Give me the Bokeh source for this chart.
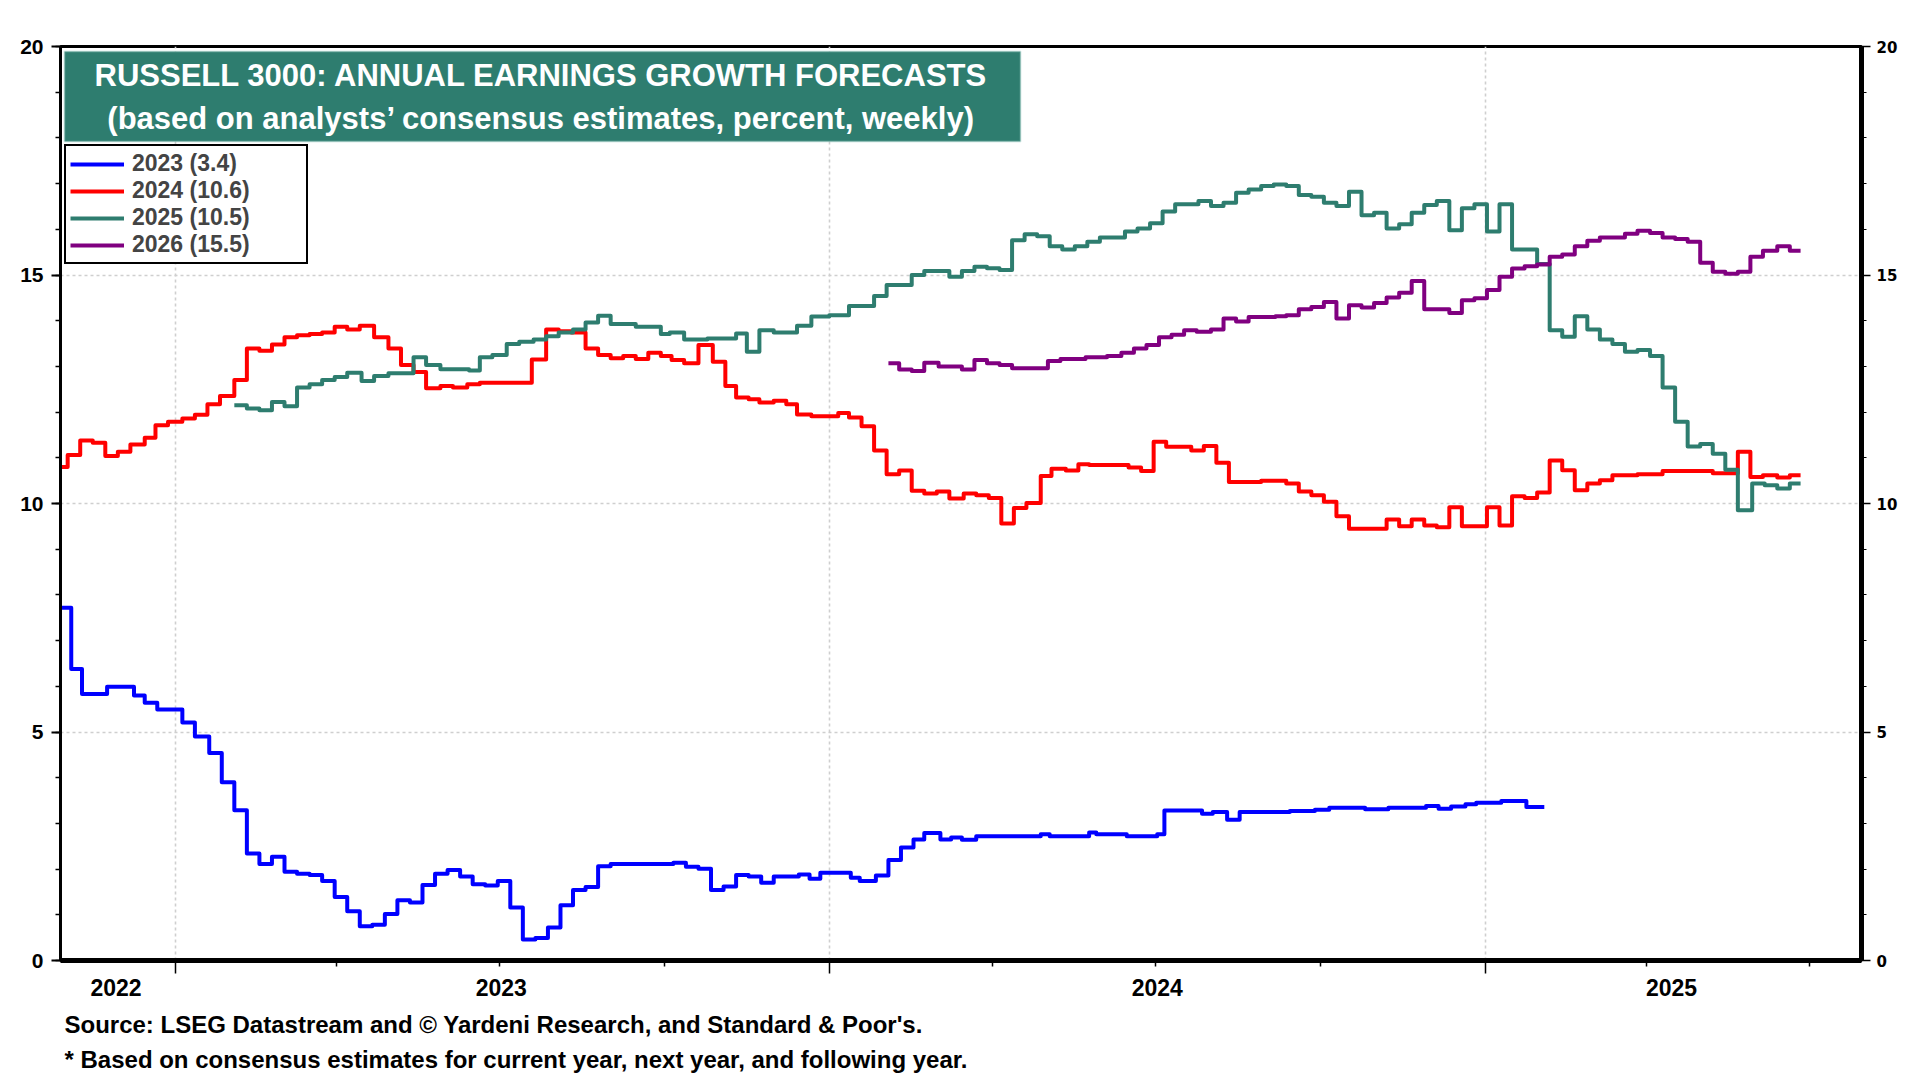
import pandas as pd
from bokeh.plotting import figure
from bokeh.models import (LinearAxis, FixedTicker, Grid, Range1d, ColumnDataSource,
                          Legend, LegendItem, Label, BoxAnnotation, Title)
from bokeh.embed import file_html
from bokeh.resources import INLINE

# ---------------- data (weekly consensus growth forecasts, %; value holds from each date) -----------
dates_2023 = ["2022-10-28", "2022-11-04", "2022-11-10", "2022-11-24", "2022-12-09", "2022-12-15",
              "2022-12-22", "2023-01-05", "2023-01-12", "2023-01-20", "2023-01-27", "2023-02-03",
              "2023-02-10", "2023-02-17", "2023-02-24", "2023-03-03", "2023-03-10", "2023-03-17",
              "2023-03-24", "2023-03-31", "2023-04-07", "2023-04-14", "2023-04-21", "2023-04-28",
              "2023-05-05", "2023-05-12", "2023-05-19", "2023-05-26", "2023-06-02", "2023-06-09",
              "2023-06-16", "2023-06-23", "2023-06-30", "2023-07-07", "2023-07-14", "2023-07-21",
              "2023-07-28", "2023-08-04", "2023-08-11", "2023-08-18", "2023-08-25", "2023-09-01",
              "2023-10-06", "2023-10-13", "2023-10-20", "2023-10-27", "2023-11-03", "2023-11-10",
              "2023-11-17", "2023-11-24", "2023-12-01", "2023-12-15", "2023-12-21", "2023-12-27",
              "2024-01-13", "2024-01-18", "2024-01-27", "2024-02-03", "2024-02-10", "2024-02-17",
              "2024-02-23", "2024-03-03", "2024-03-09", "2024-03-15", "2024-03-23", "2024-04-28",
              "2024-05-03", "2024-05-25", "2024-05-29", "2024-06-15", "2024-07-02", "2024-07-06",
              "2024-07-27", "2024-08-02", "2024-08-10", "2024-08-17", "2024-09-14", "2024-09-28",
              "2024-10-06", "2024-10-26", "2024-11-08", "2024-11-29", "2024-12-06", "2024-12-13",
              "2024-12-21", "2024-12-27", "2025-01-10", "2025-01-24", "2025-02-03"]
growth_2023 = [7.72, 6.38, 5.83, 5.99, 5.80, 5.64,
               5.49, 5.21, 4.90, 4.54, 3.90, 3.29,
               2.34, 2.11, 2.27, 1.94, 1.90, 1.87,
               1.74, 1.39, 1.08, 0.75, 0.78, 1.02,
               1.32, 1.27, 1.65, 1.90, 1.98, 1.84,
               1.67, 1.64, 1.74, 1.16, 0.46, 0.49,
               0.72, 1.21, 1.54, 1.61, 2.06, 2.11,
               2.14, 2.05, 2.01, 1.54, 1.62, 1.87,
               1.84, 1.70, 1.84, 1.88, 1.79, 1.92,
               1.81, 1.74, 1.86, 2.20, 2.47, 2.65,
               2.79, 2.65, 2.69, 2.64, 2.72, 2.76,
               2.72, 2.80, 2.76, 2.72, 2.76, 3.28,
               3.21, 3.25, 3.08, 3.25, 3.27, 3.30,
               3.34, 3.31, 3.34, 3.38, 3.32, 3.37,
               3.42, 3.45, 3.49, 3.36, 3.36]

dates_2024 = ["2022-10-28", "2022-11-02", "2022-11-09", "2022-11-16", "2022-11-23", "2022-11-30",
              "2022-12-07", "2022-12-15", "2022-12-21", "2022-12-28", "2023-01-05", "2023-01-12",
              "2023-01-19", "2023-01-26", "2023-02-03", "2023-02-10", "2023-02-17", "2023-02-24",
              "2023-03-03", "2023-03-10", "2023-03-17", "2023-03-24", "2023-03-31", "2023-04-07",
              "2023-04-14", "2023-04-22", "2023-04-30", "2023-05-07", "2023-05-14", "2023-05-21",
              "2023-05-29", "2023-06-05", "2023-06-13", "2023-06-20", "2023-07-19", "2023-07-27",
              "2023-08-03", "2023-08-10", "2023-08-18", "2023-08-25", "2023-09-01", "2023-09-08",
              "2023-09-15", "2023-09-22", "2023-09-29", "2023-10-05", "2023-10-12", "2023-10-20",
              "2023-10-28", "2023-11-04", "2023-11-10", "2023-11-17", "2023-11-23", "2023-12-01",
              "2023-12-08", "2023-12-14", "2023-12-22", "2024-01-06", "2024-01-12", "2024-01-19",
              "2024-01-26", "2024-02-02", "2024-02-09", "2024-02-16", "2024-02-23", "2024-03-01",
              "2024-03-08", "2024-03-16", "2024-03-23", "2024-03-30", "2024-04-06", "2024-04-13",
              "2024-04-20", "2024-04-28", "2024-05-04", "2024-05-12", "2024-05-19", "2024-05-25",
              "2024-06-16", "2024-06-23", "2024-06-30", "2024-07-07", "2024-07-21", "2024-07-28",
              "2024-08-04", "2024-08-11", "2024-08-29", "2024-09-12", "2024-09-19", "2024-09-26",
              "2024-10-03", "2024-10-10", "2024-10-17", "2024-11-07", "2024-11-14", "2024-11-21",
              "2024-11-28", "2024-12-05", "2024-12-12", "2024-12-19", "2025-01-02", "2025-01-09",
              "2025-01-16", "2025-01-23", "2025-01-30", "2025-02-06", "2025-02-13", "2025-02-20",
              "2025-02-27", "2025-03-06", "2025-03-13", "2025-03-27", "2025-04-10", "2025-05-08",
              "2025-05-22", "2025-05-29", "2025-06-05", "2025-06-13", "2025-06-20", "2025-06-26"]
growth_2024 = [10.80, 11.06, 11.38, 11.33, 11.04, 11.13,
               11.29, 11.44, 11.71, 11.79, 11.86, 11.94,
               12.17, 12.35, 12.70, 13.39, 13.34, 13.48,
               13.64, 13.68, 13.71, 13.74, 13.87, 13.81,
               13.89, 13.64, 13.39, 13.03, 12.88, 12.52,
               12.57, 12.54, 12.61, 12.64, 13.15, 13.81,
               13.77, 13.74, 13.39, 13.25, 13.18, 13.23,
               13.16, 13.30, 13.23, 13.14, 13.07, 13.47,
               13.10, 12.57, 12.32, 12.28, 12.21, 12.25,
               12.17, 11.95, 11.91, 11.98, 11.88, 11.69,
               11.16, 10.64, 10.72, 10.28, 10.22, 10.26,
               10.11, 10.22, 10.18, 10.12, 9.56, 9.90,
               10.01, 10.60, 10.76, 10.72, 10.86, 10.84,
               10.79, 10.71, 11.35, 11.24, 11.16, 11.26,
               10.89, 10.47, 10.50, 10.44, 10.26, 10.18,
               10.04, 9.72, 9.45, 9.65, 9.50, 9.65,
               9.52, 9.48, 9.92, 9.50, 9.92, 9.52,
               10.16, 10.12, 10.24, 10.94, 10.73, 10.29,
               10.44, 10.51, 10.62, 10.64, 10.71, 10.66,
               11.13, 10.58, 10.62, 10.57, 10.62, 10.62]

dates_2025 = ["2023-02-03", "2023-02-10", "2023-02-17", "2023-02-24", "2023-03-03", "2023-03-10",
              "2023-03-17", "2023-03-24", "2023-03-31", "2023-04-07", "2023-04-15", "2023-04-22",
              "2023-04-30", "2023-05-14", "2023-05-21", "2023-05-29", "2023-06-14", "2023-06-20",
              "2023-06-27", "2023-07-05", "2023-07-12", "2023-07-20", "2023-07-27", "2023-08-03",
              "2023-08-11", "2023-08-18", "2023-08-25", "2023-09-01", "2023-09-15", "2023-09-29",
              "2023-10-04", "2023-10-12", "2023-10-25", "2023-11-10", "2023-11-16", "2023-11-23",
              "2023-12-01", "2023-12-14", "2023-12-22", "2024-01-01", "2024-01-12", "2024-01-26",
              "2024-02-02", "2024-02-16", "2024-02-23", "2024-03-08", "2024-03-15", "2024-03-22",
              "2024-03-29", "2024-04-05", "2024-04-12", "2024-04-19", "2024-04-26", "2024-05-03",
              "2024-05-10", "2024-05-17", "2024-05-24", "2024-05-31", "2024-06-14", "2024-06-21",
              "2024-06-28", "2024-07-05", "2024-07-12", "2024-07-25", "2024-08-01", "2024-08-08",
              "2024-08-15", "2024-08-22", "2024-08-29", "2024-09-05", "2024-09-12", "2024-09-19",
              "2024-09-26", "2024-10-03", "2024-10-10", "2024-10-17", "2024-10-24", "2024-10-31",
              "2024-11-07", "2024-11-14", "2024-11-21", "2024-11-28", "2024-12-05", "2024-12-12",
              "2024-12-19", "2024-12-26", "2025-01-02", "2025-01-09", "2025-01-16", "2025-01-30",
              "2025-02-06", "2025-02-13", "2025-02-20", "2025-02-27", "2025-03-06", "2025-03-13",
              "2025-03-20", "2025-03-27", "2025-04-03", "2025-04-10", "2025-04-17", "2025-04-24",
              "2025-05-01", "2025-05-08", "2025-05-15", "2025-05-22", "2025-05-30", "2025-06-06",
              "2025-06-13", "2025-06-20", "2025-06-26"]
growth_2025 = [12.15, 12.08, 12.04, 12.22, 12.13, 12.54,
               12.61, 12.70, 12.77, 12.86, 12.68, 12.79,
               12.85, 13.20, 13.03, 12.94, 12.91, 13.20,
               13.25, 13.49, 13.54, 13.59, 13.66, 13.74,
               13.81, 13.96, 14.11, 13.93, 13.87, 13.71,
               13.74, 13.59, 13.61, 13.72, 13.32, 13.79,
               13.74, 13.89, 14.09, 14.12, 14.32, 14.54,
               14.78, 15.00, 15.09, 14.96, 15.09, 15.18,
               15.15, 15.11, 15.76, 15.89, 15.85, 15.63,
               15.56, 15.63, 15.73, 15.82, 15.95, 16.02,
               16.13, 16.39, 16.55, 16.62, 16.51, 16.58,
               16.80, 16.87, 16.95, 16.98, 16.95, 16.75,
               16.71, 16.58, 16.51, 16.82, 16.31, 16.36,
               16.02, 16.11, 16.36, 16.53, 16.62, 15.98,
               16.46, 16.55, 15.95, 16.55, 15.56, 15.24,
               13.79, 13.65, 14.10, 13.81, 13.59, 13.49,
               13.32, 13.36, 13.23, 12.54, 11.79, 11.25,
               11.30, 11.09, 10.74, 9.85, 10.44, 10.40,
               10.33, 10.44, 10.44]

dates_2026 = ["2024-02-03", "2024-02-09", "2024-02-16", "2024-02-23", "2024-03-02", "2024-03-15",
              "2024-03-22", "2024-03-29", "2024-04-05", "2024-04-12", "2024-05-02", "2024-05-09",
              "2024-05-23", "2024-06-04", "2024-06-12", "2024-06-19", "2024-06-26", "2024-07-03",
              "2024-07-10", "2024-07-17", "2024-07-24", "2024-08-01", "2024-08-08", "2024-08-15",
              "2024-08-22", "2024-09-06", "2024-09-12", "2024-09-19", "2024-09-26", "2024-10-03",
              "2024-10-10", "2024-10-17", "2024-10-24", "2024-10-31", "2024-11-07", "2024-11-14",
              "2024-11-21", "2024-11-28", "2024-12-12", "2024-12-19", "2024-12-26", "2025-01-02",
              "2025-01-09", "2025-01-16", "2025-01-23", "2025-01-30", "2025-02-06", "2025-02-13",
              "2025-02-20", "2025-02-27", "2025-03-06", "2025-03-20", "2025-03-27", "2025-04-03",
              "2025-04-10", "2025-04-17", "2025-04-24", "2025-05-01", "2025-05-08", "2025-05-15",
              "2025-05-22", "2025-05-29", "2025-06-05", "2025-06-13", "2025-06-20", "2025-06-26"]
growth_2026 = [13.07, 12.93, 12.90, 13.08, 13.00, 12.93,
               13.14, 13.07, 13.03, 12.96, 13.12, 13.16,
               13.20, 13.23, 13.30, 13.39, 13.47, 13.64,
               13.69, 13.79, 13.76, 13.81, 14.05, 13.98,
               14.08, 14.10, 14.12, 14.25, 14.30, 14.41,
               14.05, 14.34, 14.29, 14.39, 14.51, 14.61,
               14.87, 14.25, 14.17, 14.45, 14.49, 14.67,
               14.96, 15.14, 15.19, 15.23, 15.40, 15.45,
               15.63, 15.75, 15.82, 15.90, 15.97, 15.92,
               15.82, 15.79, 15.73, 15.27, 15.07, 15.03,
               15.07, 15.40, 15.53, 15.63, 15.53, 15.53]

series_labels = ["2023 (3.4)", "2024 (10.6)", "2025 (10.5)", "2026 (15.5)"]
series_colors = ["#0000FF", "#FF0000", "#2E7D6F", "#800080"]

year_starts = ["2023-01-01", "2024-01-01", "2025-01-01"]
quarter_starts = ["2023-04-01", "2023-07-01", "2023-10-01", "2024-04-01", "2024-07-01",
                  "2024-10-01", "2025-04-01", "2025-07-01"]
year_label_dates = ["2022-11-29", "2023-07-02", "2024-07-02", "2025-04-15"]
year_labels = ["2022", "2023", "2024", "2025"]

title_line1 = "RUSSELL 3000: ANNUAL EARNINGS GROWTH FORECASTS"
title_line2 = "(based on analysts\u2019 consensus estimates, percent, weekly)"
source_line1 = "Source: LSEG Datastream and \u00a9 Yardeni Research, and Standard & Poor's."
source_line2 = "* Based on consensus estimates for current year, next year, and following year."


def ms(s):
    return int(pd.Timestamp(s).value // 10**6)


FONT = "Liberation Sans"

p = figure(width=1912, height=1080, output_backend="svg", toolbar_location=None,
           x_axis_type=None, y_axis_type=None,
           x_range=Range1d(ms("2022-10-29"), ms("2025-07-30")), y_range=Range1d(0, 20),
           min_border_left=60, min_border_right=51, min_border_top=46, min_border_bottom=120)
p.background_fill_color = "white"
p.border_fill_color = "white"
p.outline_line_color = "black"
p.outline_line_width = 3

# grids
p.add_layout(Grid(dimension=1, ticker=FixedTicker(ticks=[5, 10, 15]),
                  grid_line_color="#cfcfcf", grid_line_dash="3 3", grid_line_width=1.6))
p.add_layout(Grid(dimension=0, ticker=FixedTicker(ticks=[ms(d) for d in year_starts]),
                  grid_line_color="#cfcfcf", grid_line_dash="3 3", grid_line_width=1.6))

# y axes
left = LinearAxis(ticker=FixedTicker(ticks=[0, 5, 10, 15, 20], minor_ticks=list(range(21))),
                  axis_line_width=3, major_tick_out=9, major_tick_in=0,
                  minor_tick_out=5, minor_tick_in=0, major_tick_line_width=2,
                  minor_tick_line_width=1.5, major_label_standoff=8,
                  major_label_text_font=FONT, major_label_text_font_style="bold",
                  major_label_text_font_size="21px", major_label_text_color="black")
p.add_layout(left, "left")
right = LinearAxis(ticker=FixedTicker(ticks=[0, 5, 10, 15, 20], minor_ticks=list(range(21))),
                   axis_line_width=5, major_tick_out=9, major_tick_in=0,
                   minor_tick_out=5, minor_tick_in=0, major_tick_line_width=1.5,
                   minor_tick_line_width=1.2, major_label_standoff=6,
                   major_label_text_font="DejaVu Sans", major_label_text_font_style="bold",
                   major_label_text_font_size="15px", major_label_text_color="black")
p.add_layout(right, "right")

# x axes: ticks axis then labels axis
xticks = FixedTicker(ticks=[ms(d) for d in year_starts], minor_ticks=[ms(d) for d in quarter_starts])
xax = LinearAxis(ticker=xticks, axis_line_width=5, major_tick_out=13, major_tick_in=0,
                 minor_tick_out=6, minor_tick_in=0, major_tick_line_width=1.5,
                 minor_tick_line_width=1.5, major_label_standoff=0,
                 major_label_text_font_size="1px",
                 major_label_overrides={ms(d): "" for d in year_starts})
p.add_layout(xax, "below")
lab_ticks = [ms(d) for d in year_label_dates]
xlab = LinearAxis(ticker=FixedTicker(ticks=lab_ticks, minor_ticks=[]), axis_line_color=None,
                  major_tick_out=0, major_tick_in=0, minor_tick_out=0, minor_tick_in=0,
                  major_label_standoff=5, major_label_text_font=FONT,
                  major_label_text_font_style="bold", major_label_text_font_size="23px",
                  major_label_text_color="black",
                  major_label_overrides={t: l for t, l in zip(lab_ticks, year_labels)})
p.add_layout(xlab, "below")

# footer notes
p.add_layout(Title(text=source_line1, align="left", offset=4, standoff=21, text_font=FONT,
                   text_font_style="bold", text_font_size="24px", text_color="black"), "below")
p.add_layout(Title(text=source_line2, align="left", offset=4, standoff=-9, text_font=FONT,
                   text_font_style="bold", text_font_size="24px", text_color="black"), "below")

# series
all_dates = [dates_2023, dates_2024, dates_2025, dates_2026]
all_vals = [growth_2023, growth_2024, growth_2025, growth_2026]
items = []
for d, v, lab, col in zip(all_dates, all_vals, series_labels, series_colors):
    src = ColumnDataSource(dict(date=pd.to_datetime(d), value=v))
    r = p.step(x="date", y="value", source=src, mode="after", line_width=4, line_color=col,
               line_join="round")
    items.append(LegendItem(label=lab, renderers=[r]))

legend = Legend(items=items, location=(4, 696), border_line_color="black", border_line_width=2,
                border_line_alpha=1.0,
                background_fill_color="white", background_fill_alpha=1.0,
                label_text_font=FONT, label_text_font_style="bold", label_text_font_size="23px",
                glyph_width=54, glyph_height=22, label_height=22, label_width=170,
                spacing=0, padding=4, margin=0, label_standoff=8)
p.add_layout(legend)

# title box
p.add_layout(BoxAnnotation(left=4, right=960, bottom=819, top=909, left_units="screen",
                           right_units="screen", top_units="screen", bottom_units="screen",
                           fill_color="#2E7D6F", fill_alpha=1.0, line_color="#8CC4B8",
                           line_width=2))
for txt, yy in [(title_line1, 885), (title_line2, 842)]:
    p.add_layout(Label(x=481, y=yy, x_units="screen", y_units="screen", text=txt,
                       text_align="center", text_baseline="middle", text_color="white",
                       text_font=FONT, text_font_style="bold", text_font_size="31px"))

open("out.html", "w").write(file_html(p, INLINE))
